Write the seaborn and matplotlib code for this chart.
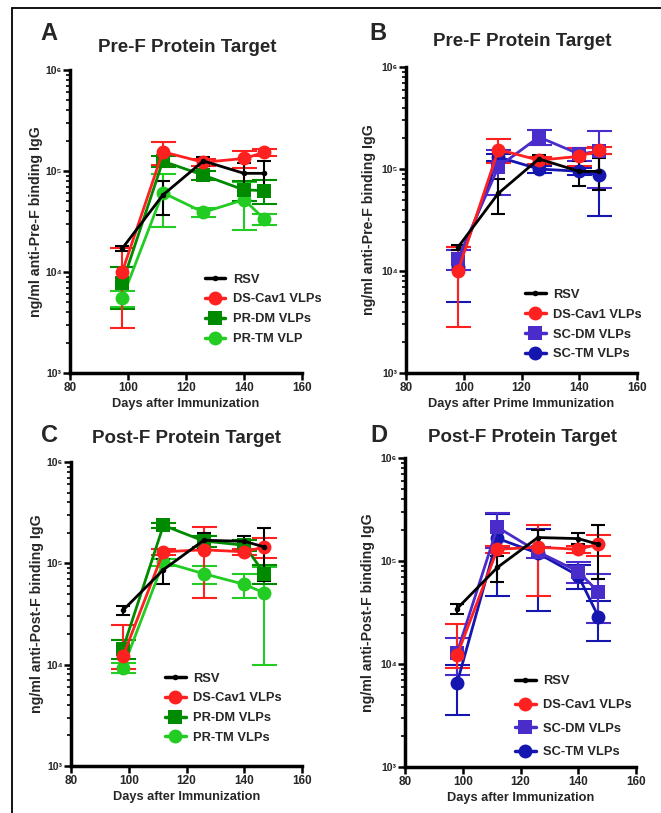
import matplotlib
matplotlib.use("Agg")
import matplotlib.pyplot as plt
from matplotlib.lines import Line2D
from matplotlib.ticker import FixedLocator, LogLocator, NullFormatter
import numpy as np
import pandas as pd
import seaborn as sns

### data
days = [98, 112, 126, 140, 147]

# Pre-F target (panels A and B)
rsv_pre = [17100, 57800, 125600, 94800, 94800]
rsv_pre_err = [1000, 21500, 13000, 26000, 32000]
dscav1_pre = [10000, 155000, 122000, 133000, 153000]
dscav1_pre_err = [7200, 40000, 10000, 26000, 12000]
prdm_pre = [7700, 125000, 91000, 65000, 64000]
prdm_pre_err = [3400, 15000, 10000, 15000, 17000]
prtm_pre = [5500, 61000, 39000, 52000, 33500]
prtm_pre_err = [1000, 33000, 4000, 26000, 4000]
scdm_pre = [13200, 105000, 206000, 140000, 150000]
scdm_pre_err = [3000, 50000, 35000, 20000, 85000]
sctm_pre = [11000, 131000, 100000, 95000, 87000]
sctm_pre_err = [6000, 10000, 8000, 8000, 52000]

# Post-F target (panels C and D)
rsv_post = [34400, 86600, 169000, 165000, 145000]
rsv_post_err = [3500, 24000, 32000, 20000, 78000]
dscav1_post = [12100, 130000, 136000, 130000, 145000]
dscav1_post_err = [12400, 10000, 90000, 10000, 32000]
dscav1_post_err_lo = [3000, 10000, 90000, 10000, 32000]
prdm_post = [14400, 237000, 166000, 151000, 79000]
prdm_post_err = [3000, 15000, 20000, 20000, 17000]
prtm_post = [9300, 103000, 79000, 62000, 51000]
prtm_post_err = [1100, 8000, 16000, 16500, 41000]
scdm_post = [12800, 213000, 123000, 79000, 50000]
scdm_post_err = [5000, 78000, 15000, 18000, 25000]
sctm_post = [6500, 166000, 119000, 72000, 28700]
sctm_post_err = [3300, 120000, 86000, 19000, 12000]

# series styles: color, marker, marker size, cap size
styles = {
    'RSV': ('black', 'o', 4, 5),
    'DS-Cav1': ('#ff2020', 'o', 10, 9),
    'PR-DM': ('#008a00', 's', 9.5, 9),
    'PR-TM': ('#22cc22', 'o', 10, 9),
    'SC-DM': ('#4a2ccb', 's', 9.5, 9),
    'SC-TM': ('#1515b0', 'o', 10, 9),
}

W, H = 661, 813
sns.set_theme(style="ticks")
plt.rcParams['font.family'] = ['Liberation Sans', 'DejaVu Sans']
plt.rcParams['font.weight'] = 'bold'

fig = plt.figure(figsize=(W / 100, H / 100), dpi=100)


def px_axes(x0, x1, ytop, ybot):
    return fig.add_axes([x0 / W, 1 - ybot / H, (x1 - x0) / W, (ybot - ytop) / H])


def draw_panel(ax, series, ylabel, xlabel, leg_anchor, leg_spacing, ylab_x):
    # draw last series first so RSV ends on top
    handles = []
    for name, label, vals, errs in reversed(series):
        color, marker, ms, cap = styles[name]
        df = pd.DataFrame({'day': days, 'val': vals})
        ax.errorbar(days, vals, yerr=errs, fmt='none', ecolor=color,
                    elinewidth=1.5, capsize=cap, capthick=1.5, zorder=2)
        sns.lineplot(data=df, x='day', y='val', ax=ax, color=color,
                     marker=marker, markersize=ms, markeredgewidth=0,
                     linewidth=2, zorder=3)
        handles.append(Line2D([], [], color=color, marker=marker,
                              markersize=ms, markeredgewidth=0, linewidth=2.5,
                              label=label))
    handles = handles[::-1]
    ax.set_yscale('log')
    ax.set_xlim(80, 160)
    ax.set_ylim(1e3, 1e6)
    ax.set_xticks([80, 100, 120, 140, 160])
    ax.yaxis.set_major_locator(FixedLocator([1e3, 1e4, 1e5, 1e6]))
    ax.set_yticklabels(['10\u00b3', '10\u2074', '10\u2075', '10\u2076'])
    ax.yaxis.set_minor_locator(LogLocator(base=10, subs=np.arange(2, 10)))
    ax.yaxis.set_minor_formatter(NullFormatter())
    ax.tick_params(axis='x', which='major', width=1.8, length=5,
                   labelsize=8.5, pad=1.5, color='black')
    ax.tick_params(axis='y', which='major', width=1.8, length=5,
                   labelsize=7.5, pad=1, color='black')
    ax.tick_params(axis='y', which='minor', width=1.2, length=3, color='black')
    for lab in ax.get_xticklabels() + ax.get_yticklabels():
        lab.set_fontweight('bold')
    sns.despine(ax=ax)
    for sp in ('left', 'bottom'):
        ax.spines[sp].set_linewidth(2.5)
        ax.spines[sp].set_color('black')
    ax.set_xlabel(xlabel, fontsize=9.2, fontweight='bold', labelpad=3)
    ax.set_ylabel(ylabel, fontsize=10.2, fontweight='bold')
    ax.yaxis.set_label_coords(ylab_x, 0.5)
    ax.legend(handles=handles, loc='center left', bbox_to_anchor=leg_anchor,
              frameon=False, handlelength=1.6, handletextpad=0.6,
              borderpad=0, borderaxespad=0, labelspacing=leg_spacing,
              prop={'weight': 'bold', 'size': 9.3})


axA = px_axes(70, 302, 70, 373)
axB = px_axes(406, 637, 67, 373)
axC = px_axes(71, 302, 462, 766)
axD = px_axes(405, 636, 458, 767)

draw_panel(axA, [
    ('RSV', 'RSV', rsv_pre, rsv_pre_err),
    ('DS-Cav1', 'DS-Cav1 VLPs', dscav1_pre, dscav1_pre_err),
    ('PR-DM', 'PR-DM VLPs', prdm_pre, prdm_pre_err),
    ('PR-TM', 'PR-TM VLP', prtm_pre, prtm_pre_err),
], 'ng/ml anti-Pre-F binding IgG', 'Days after Immunization', (0.58, 0.21), 0.6, -0.115)

draw_panel(axB, [
    ('RSV', 'RSV', rsv_pre, rsv_pre_err),
    ('DS-Cav1', 'DS-Cav1 VLPs', dscav1_pre, dscav1_pre_err),
    ('SC-DM', 'SC-DM VLPs', scdm_pre, scdm_pre_err),
    ('SC-TM', 'SC-TM VLPs', sctm_pre, sctm_pre_err),
], 'ng/ml anti-Pre-F binding IgG', 'Days after Prime Immunization', (0.515, 0.158), 0.6, -0.13)

draw_panel(axC, [
    ('RSV', 'RSV', rsv_post, rsv_post_err),
    ('DS-Cav1', 'DS-Cav1 VLPs', dscav1_post, [dscav1_post_err_lo, dscav1_post_err]),
    ('PR-DM', 'PR-DM VLPs', prdm_post, prdm_post_err),
    ('PR-TM', 'PR-TM VLPs', prtm_post, prtm_post_err),
], 'ng/ml anti-Post-F binding IgG', 'Days after Immunization', (0.407, 0.19), 0.6, -0.115)

draw_panel(axD, [
    ('RSV', 'RSV', rsv_post, rsv_post_err),
    ('DS-Cav1', 'DS-Cav1 VLPs', dscav1_post, [dscav1_post_err_lo, dscav1_post_err]),
    ('SC-DM', 'SC-DM VLPs', scdm_post, scdm_post_err),
    ('SC-TM', 'SC-TM VLPs', sctm_post, sctm_post_err),
], 'ng/ml anti-Post-F binding IgG', 'Days after Immunization', (0.476, 0.162), 0.9, -0.13)

# panel letters and titles
for letter, x, y in [('A', 49, 33), ('B', 378, 33), ('C', 50, 435), ('D', 379, 435)]:
    fig.text(x / W, 1 - y / H, letter, fontsize=17, fontweight='bold',
             ha='center', va='center')
for title, x, y in [('Pre-F Protein Target', 187, 48), ('Pre-F Protein Target', 522, 42),
                    ('Post-F Protein Target', 187, 438), ('Post-F Protein Target', 522, 437)]:
    fig.text(x / W, 1 - y / H, title, fontsize=13.5, fontweight='bold',
             ha='center', va='center')

# outer frame (open at right and bottom, as cropped)
fig.add_artist(Line2D([12 / W, 1], [1 - 8.5 / H, 1 - 8.5 / H], color='black', linewidth=1.3))
fig.add_artist(Line2D([12 / W, 12 / W], [0, 1 - 8.5 / H], color='black', linewidth=1.3))

fig.savefig('out.png', dpi=100)
